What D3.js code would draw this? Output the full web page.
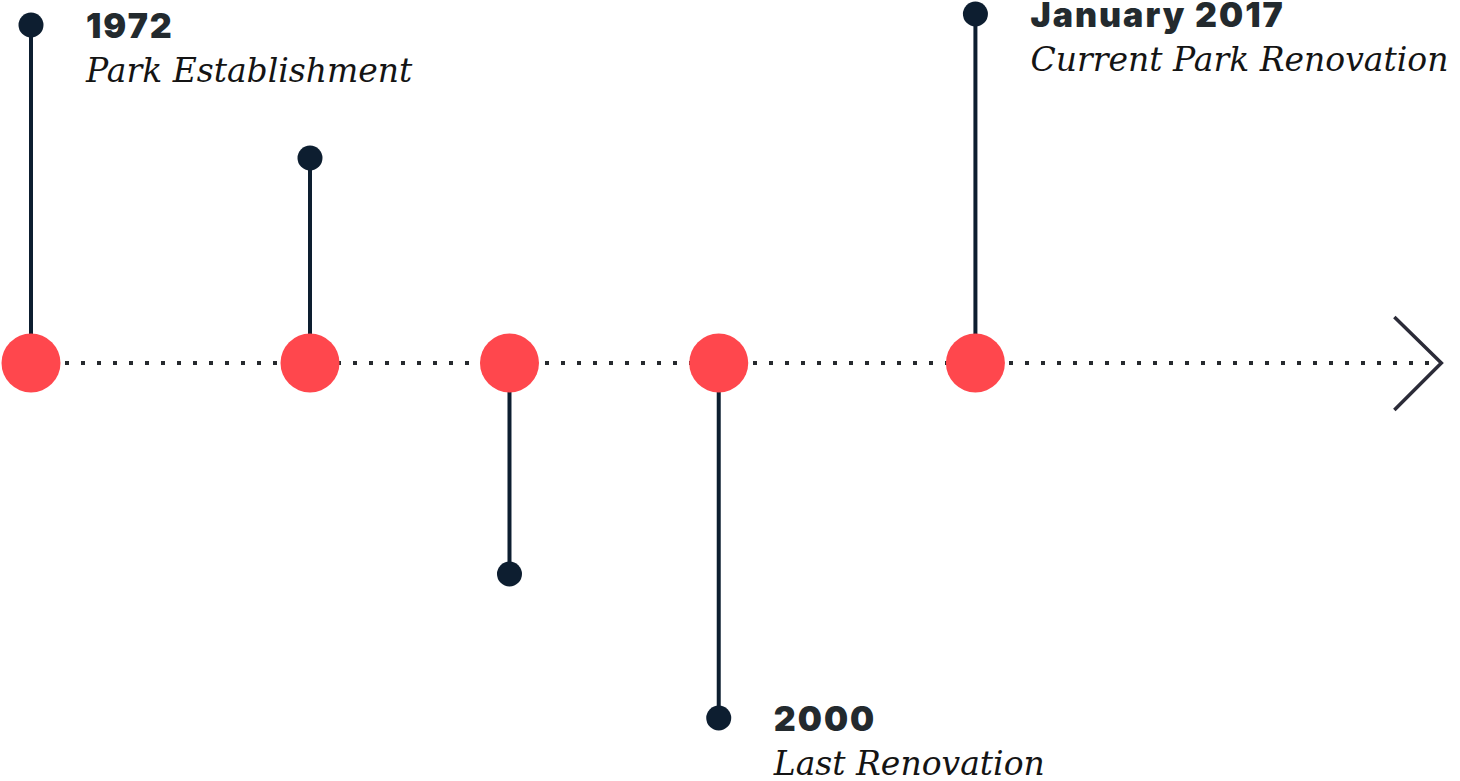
<!DOCTYPE html>
<html>
<head>
<meta charset="utf-8">
<script src="https://cdn.jsdelivr.net/npm/d3@7"></script>
<style>
  html, body { margin: 0; padding: 0; background: #fff; }
  svg { display: block; }
  .title { font-family: Inter, "Open Sans", sans-serif; font-weight: 900; fill: #232a2e; letter-spacing: 2px; }
  .sub { font-family: "DejaVu Serif", serif; font-style: italic; fill: #141414; }
</style>
</head>
<body>
<svg id="chart" width="1460" height="781"></svg>
<script>
// timeline events, left to right
const positions = [0, 0.2, 0.343, 0.493, 0.677];   // share of the timeline length
const stemValues = [338, 205, -211, -355, 349];     // up (+) / down (-) from the axis
const titles = ['1972', '', '', '2000', 'January 2017'];
const subtitles = ['Park Establishment', '', '', 'Last Renovation', 'Current Park Renovation'];
const arrowEnd = 1.011;

const svg = d3.select('#chart');
const axisY = 363;

const x = d3.scaleLinear().domain([0, 1]).range([31, 1426]);
const y = d3.scaleLinear().domain([-363, 363]).range([axisY * 2, 0]);

const events = positions.map((p, i) => ({
  pos: p, stem: stemValues[i], title: titles[i], sub: subtitles[i]
}));

// dotted axis line
svg.append('line')
  .attr('x1', x(0) + 34).attr('x2', x(arrowEnd) - 8)
  .attr('y1', y(0)).attr('y2', y(0))
  .attr('stroke', '#262a2e')
  .attr('stroke-width', 4)
  .attr('stroke-dasharray', '4 12');

// arrow head
svg.append('path')
  .attr('d', `M${x(arrowEnd) - 47},${y(0) - 46} L${x(arrowEnd)},${y(0)} L${x(arrowEnd) - 47},${y(0) + 47}`)
  .attr('fill', 'none')
  .attr('stroke', '#2b2b38')
  .attr('stroke-width', 3.5);

// stems
svg.selectAll('.stem').data(events).join('line')
  .attr('class', 'stem')
  .attr('x1', d => x(d.pos)).attr('x2', d => x(d.pos))
  .attr('y1', y(0)).attr('y2', d => y(d.stem))
  .attr('stroke', '#0d1e30')
  .attr('stroke-width', 4);

svg.selectAll('.tip').data(events).join('circle')
  .attr('class', 'tip')
  .attr('cx', d => x(d.pos)).attr('cy', d => y(d.stem))
  .attr('r', 12.5)
  .attr('fill', '#0d1e30');

// red markers on the axis
svg.selectAll('.mark').data(events).join('circle')
  .attr('class', 'mark')
  .attr('cx', d => x(d.pos)).attr('cy', y(0))
  .attr('r', 29.5)
  .attr('fill', '#ff474d');

// labels
const lab = events.filter(d => d.title);
svg.selectAll('.title').data(lab).join('text')
  .attr('class', 'title')
  .attr('x', d => x(d.pos) + 55)
  .attr('y', d => y(d.stem) + 13)
  .attr('font-size', 34)
  .text(d => d.title);

svg.selectAll('.sub').data(lab).join('text')
  .attr('class', 'sub')
  .attr('x', d => x(d.pos) + 55)
  .attr('y', d => y(d.stem) + 57)
  .attr('font-size', 33)
  .text(d => d.sub);
</script>
</body>
</html>
